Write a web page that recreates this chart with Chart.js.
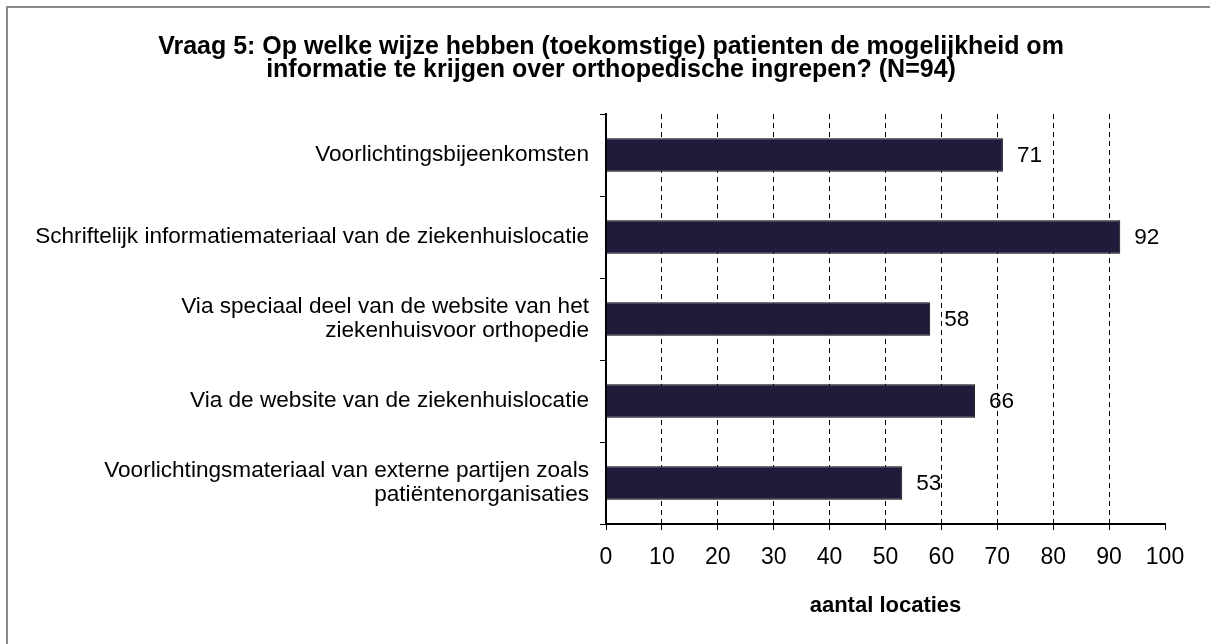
<!DOCTYPE html>
<html>
<head>
<meta charset="utf-8">
<script src="https://cdn.jsdelivr.net/npm/chart.js@4/dist/chart.umd.min.js"></script>
<style>
  body { margin: 0; background: #fff; }
  #wrap { width: 1210px; height: 644px; }
</style>
</head>
<body>
<div id="wrap"><canvas id="chart" width="1210" height="644"></canvas></div>
<script>
// data
const categories = [
  'Voorlichtingsbijeenkomsten',
  'Schriftelijk informatiemateriaal van de ziekenhuislocatie',
  ['Via speciaal deel van de website van het', 'ziekenhuisvoor orthopedie'],
  'Via de website van de ziekenhuislocatie',
  ['Voorlichtingsmateriaal van externe partijen zoals', 'patiëntenorganisaties']
];
const counts = [71, 92, 58, 66, 53];
const titleLines = [
  'Vraag 5: Op welke wijze hebben (toekomstige) patienten de mogelijkheid om',
  'informatie te krijgen over orthopedische ingrepen? (N=94)'
];
const axisTitle = 'aantal locaties';

const fontFamily = '"Liberation Sans", Arial, sans-serif';

// grey frame, only left and top edge show in the picture
const framePlugin = {
  id: 'frame',
  afterLayout(chart) {
    // original title sits a bit right of the canvas centre
    chart.titleBlock.left += 47;
  },
  beforeDraw(chart) {
    const ctx = chart.ctx;
    ctx.save();
    ctx.fillStyle = '#fff';
    ctx.fillRect(0, 0, chart.width, chart.height);
    ctx.strokeStyle = '#8a8a8a';
    ctx.lineWidth = 2;
    ctx.beginPath();
    ctx.moveTo(7, chart.height);
    ctx.lineTo(7, 7);
    ctx.lineTo(chart.width, 7);
    ctx.stroke();
    ctx.restore();
  }
};

// numbers to the right of each bar
const valueLabels = {
  id: 'valueLabels',
  afterDatasetsDraw(chart) {
    const ctx = chart.ctx;
    const meta = chart.getDatasetMeta(0);
    ctx.save();
    ctx.font = '22.6px ' + fontFamily;
    ctx.fillStyle = '#000';
    ctx.textAlign = 'left';
    ctx.textBaseline = 'middle';
    meta.data.forEach((bar, i) => {
      ctx.fillText(String(counts[i]), bar.x + 14, bar.y + 1);
    });
    ctx.restore();
  }
};

new Chart(document.getElementById('chart'), {
  type: 'bar',
  data: {
    labels: categories,
    datasets: [{
      data: counts,
      backgroundColor: '#1e1b3b',
      borderColor: '#000',
      borderWidth: 1,
      barPercentage: 0.41,
      categoryPercentage: 1
    }]
  },
  options: {
    indexAxis: 'y',
    responsive: false,
    animation: false,
    layout: { padding: { left: 10, right: 45, top: 36, bottom: 14 } },
    plugins: {
      legend: { display: false },
      tooltip: { enabled: false },
      title: {
        display: true,
        text: titleLines,
        color: '#000',
        font: { family: fontFamily, size: 25, weight: 'bold', lineHeight: 0.92 },
        padding: { top: 0, bottom: 32 }
      }
    },
    scales: {
      x: {
        min: 0,
        max: 100,
        ticks: {
          stepSize: 10,
          color: '#000',
          padding: 14,
          font: { family: fontFamily, size: 23 }
        },
        grid: {
          color: (c) => (c.tick && c.tick.value > 0 && c.tick.value < 100) ? '#000' : 'rgba(0,0,0,0)',
          tickColor: '#000',
          tickLength: 6,
          lineWidth: 1
        },
        border: { display: true, color: '#000', width: 2, dash: [5, 4] },
        title: {
          display: true,
          text: axisTitle,
          color: '#000',
          font: { family: fontFamily, size: 22, weight: 'bold' },
          padding: { top: 0, bottom: 11 }
        },
        afterFit(scale) { scale.height = 106; }
      },
      y: {
        ticks: {
          color: '#000',
          padding: 11,
          font: { family: fontFamily, size: 22.6, lineHeight: 1.06 }
        },
        grid: {
          offset: true,
          drawOnChartArea: false,
          tickColor: '#000',
          tickLength: 6
        },
        border: { display: true, color: '#000', width: 2 },
        afterFit(scale) { scale.width = 596; }
      }
    }
  },
  plugins: [framePlugin, valueLabels]
});
</script>
</body>
</html>
